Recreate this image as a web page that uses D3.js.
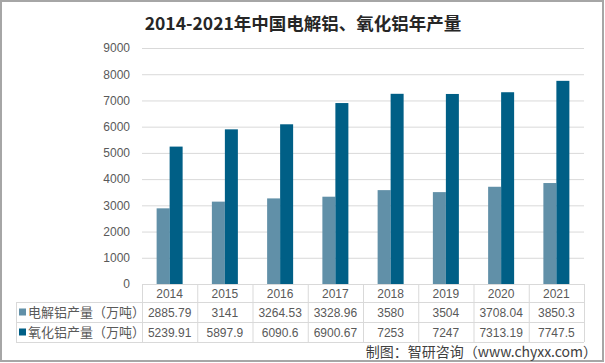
<!DOCTYPE html>
<html><head><meta charset="utf-8">
<script src="https://cdn.jsdelivr.net/npm/d3@7"></script>
<style>
body{margin:0;background:#fff;}
svg{display:block;font-family:"Noto Sans CJK SC","Noto Sans",sans-serif;}
</style></head>
<body><svg id="c" width="605" height="363"></svg>
<script>
const years = ["2014","2015","2016","2017","2018","2019","2020","2021"];
const seriesNames = ["电解铝产量（万吨）","氧化铝产量（万吨）"];
const aluminium = [2885.79,3141,3264.53,3328.96,3580,3504,3708.04,3850.3];
const alumina = [5239.91,5897.9,6090.6,6900.67,7253,7247,7313.19,7747.5];
const aluminiumLabels = ["2885.79","3141","3264.53","3328.96","3580","3504","3708.04","3850.3"];
const aluminaLabels = ["5239.91","5897.9","6090.6","6900.67","7253","7247","7313.19","7747.5"];
const yTicks = [0,1000,2000,3000,4000,5000,6000,7000,8000,9000];
const title = "2014-2021年中国电解铝、氧化铝年产量";
const source = "制图：智研咨询（www.chyxx.com）";

const colors = ["#6190a8","#005f86"];
const svg = d3.select("#c");
const W=605,H=363;
const L=142,R=584,T=48,B=284;

svg.append("rect").attr("x",1).attr("y",1).attr("width",W-3).attr("height",H-3)
  .attr("fill","#fff").attr("stroke","#a6a6a6").attr("stroke-width",2);

svg.append("text").attr("x",303).attr("y",30).attr("text-anchor","middle")
  .attr("font-size",17.5).attr("font-weight","bold").attr("fill","#262626").text(title);

const x = d3.scaleBand().domain(years).range([L,R]);
const y = d3.scaleLinear().domain([0,9000]).range([B,T]);

const yAxis = d3.axisLeft(y).tickValues(yTicks).tickSize(-(R-L)).tickPadding(12).tickFormat(d3.format("d"));
const gy = svg.append("g").attr("transform",`translate(${L},0)`).call(yAxis);
gy.select(".domain").remove();
gy.selectAll(".tick line").attr("stroke","#d9d9d9");
gy.selectAll(".tick text").attr("fill","#595959").attr("font-size",12).attr("x",-12)
  .attr("font-family","'Liberation Sans','DejaVu Sans',sans-serif");
gy.selectAll(".tick").filter(d=>d===0).select("line").remove();

const bw = 13;
const xs = d3.scaleBand().domain([0,1]).range([0,bw*2]);
const g = svg.append("g");
[aluminium,alumina].forEach((arr,si)=>{
  g.selectAll(".b"+si).data(arr).join("rect")
   .attr("x",(d,i)=>x(years[i])+x.bandwidth()/2-bw+xs(si))
   .attr("width",bw)
   .attr("y",d=>y(d)).attr("height",d=>B-y(d))
   .attr("fill",colors[si]);
});

const rowY=[B,302,322,342];
const lc="#d9d9d9";
const tg = svg.append("g");
tg.append("line").attr("x1",L).attr("x2",R).attr("y1",B+0.5).attr("y2",B+0.5).attr("stroke",lc);
[302,322,342].forEach(v=>tg.append("line").attr("x1",16).attr("x2",R).attr("y1",v+0.5).attr("y2",v+0.5).attr("stroke",lc));
tg.append("line").attr("x1",16.5).attr("x2",16.5).attr("y1",302).attr("y2",342).attr("stroke",lc);
years.forEach((yr,i)=>{
  const xv = x(yr);
  tg.append("line").attr("x1",xv+0.5).attr("x2",xv+0.5).attr("y1",B).attr("y2",342).attr("stroke",lc);
});
tg.append("line").attr("x1",R+0.5).attr("x2",R+0.5).attr("y1",B).attr("y2",342).attr("stroke",lc);

const numFont="'Liberation Sans','DejaVu Sans',sans-serif";
years.forEach(yr=>{
  tg.append("text").attr("x",x(yr)+x.bandwidth()/2).attr("y",297.5).attr("text-anchor","middle")
    .attr("font-size",12).attr("fill","#595959").attr("font-family",numFont).text(yr);
});
[aluminiumLabels,aluminaLabels].forEach((labs,si)=>{
  const cy = rowY[si+1]+10;
  tg.append("rect").attr("x",19).attr("y",cy-3.5).attr("width",7).attr("height",7).attr("fill",colors[si]);
  tg.append("text").attr("x",28).attr("y",cy+4.5).attr("font-size",13).attr("fill","#595959").text(seriesNames[si]);
  labs.forEach((t,i)=>{
    tg.append("text").attr("x",x(years[i])+x.bandwidth()/2).attr("y",cy+4.5).attr("text-anchor","middle")
      .attr("font-size",12).attr("fill","#595959").attr("font-family",numFont).text(t);
  });
});

svg.append("text").attr("x",597).attr("y",357).attr("text-anchor","end")
  .attr("font-size",14).attr("fill","#404040").text(source);
</script></body></html>
